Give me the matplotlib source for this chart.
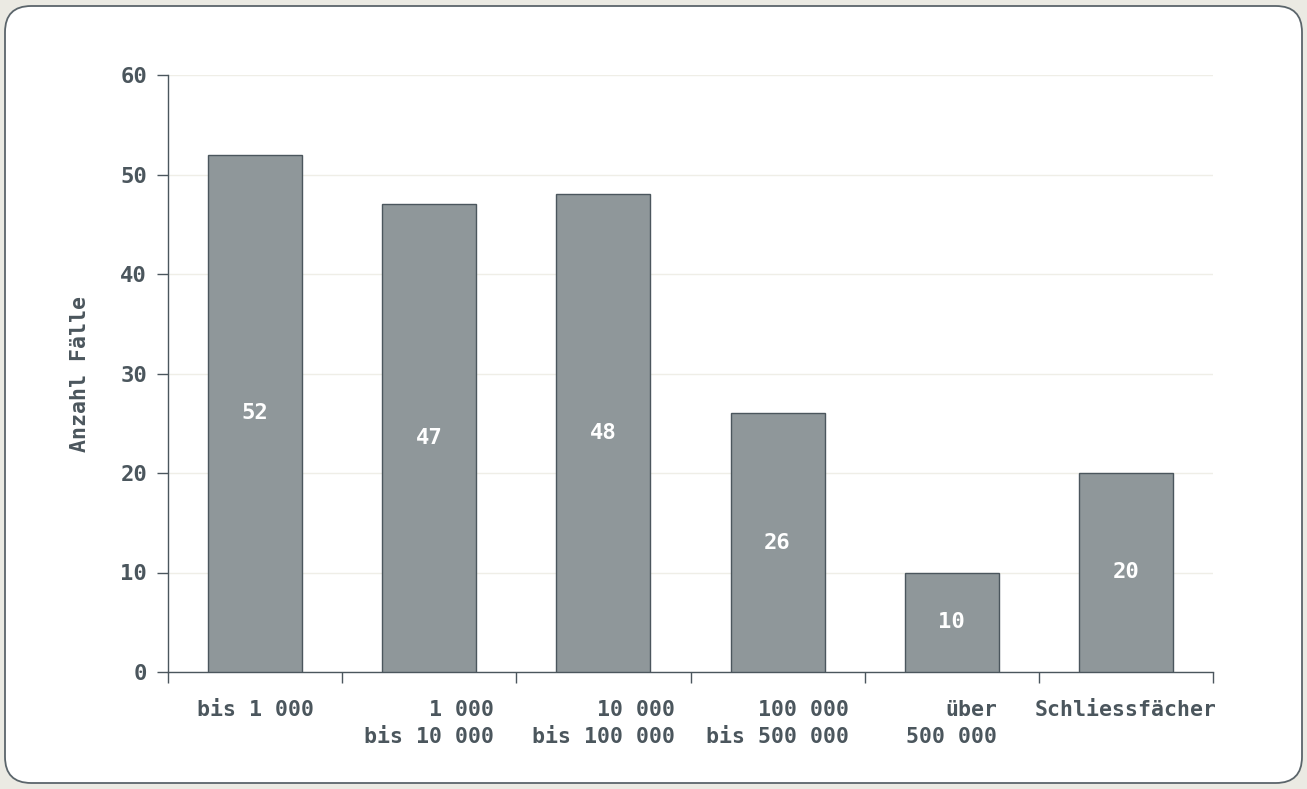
"""
Bar chart: Anzahl Fälle nach Betragsklasse.
"""
import matplotlib
matplotlib.use('Agg')
import matplotlib.pyplot as plt
import matplotlib.patches as mpatches
import numpy as np


# ============================================================
# DATA
# ============================================================
categories = ['bis 1\u2009000', '1\u2009000\nbis 10\u2009000', '10\u2009000\nbis 100\u2009000',
              '100\u2009000\nbis 500\u2009000', 'über\n500\u2009000', 'Schliessfächer']
values = [52, 47, 48, 26, 10, 20]
y_ticks = [0, 10, 20, 30, 40, 50, 60]
y_label = 'Anzahl Fälle'


# ============================================================
# STYLE
# ============================================================
C = {
    'bg':     '#ebeae3',
    'panel':  '#ffffff',
    'frame':  '#5b656b',
    'bar':    '#8f979a',
    'edge':   '#4b565d',
    'text':   '#4b565d',
    'grid':   '#efeee7',
}
FONT = ['DejaVu Sans Mono', 'DejaVu Sans']
FS_X = 15.5
FS_Y = 16

W, H = 1307, 789
fig = plt.figure(figsize=(W / 100, H / 100), dpi=100, facecolor=C['bg'])

# Rounded white panel
panel = mpatches.FancyBboxPatch(
    (5 / W, 6 / H), 1297 / W, 777 / H,
    boxstyle='round,pad=0,rounding_size=0.02',
    facecolor=C['panel'], edgecolor=C['frame'], linewidth=1.3,
    transform=fig.transFigure, figure=fig, zorder=-10,
    mutation_aspect=W / H)
fig.patches.append(panel)

ax = fig.add_axes([168 / W, 117 / H, (1213 - 168) / W, (672 - 75) / H])
ax.set_zorder(5)
ax.set_facecolor('none')

x = np.arange(len(values)) + 0.5
bars = ax.bar(x, values, width=0.54, color=C['bar'], edgecolor=C['edge'],
              linewidth=1.0, zorder=3)

# Value labels in the middle of each bar
for xi, v in zip(x, values):
    ax.text(xi, v / 2, str(v), ha='center', va='center', color='white',
            fontsize=FS_Y, fontweight='bold', family=FONT, zorder=4)

ax.set_xlim(0, len(values))
ax.set_ylim(0, 60)

# y axis
ax.set_yticks(y_ticks)
ax.set_yticklabels([str(t) for t in y_ticks])
ax.grid(axis='y', color=C['grid'], linewidth=1.0, zorder=0)
ax.set_axisbelow(True)

# x axis: ticks at category boundaries, labels at centres
ax.set_xticks(np.arange(len(values) + 1))
ax.set_xticklabels([])
ax.set_xticks(x, minor=True)
ax.set_xticklabels(categories, minor=True, multialignment='right',
                   linespacing=1.45)
ax.tick_params(axis='x', which='major', length=8, width=1.0, color=C['edge'],
               direction='out')
ax.tick_params(axis='x', which='minor', length=0, pad=20)
ax.tick_params(axis='y', length=8, width=1.0, color=C['edge'], pad=7)

for lab in ax.get_xticklabels(minor=True):
    lab.set_fontsize(FS_X)
    lab.set_fontweight('bold')
    lab.set_family(FONT)
    lab.set_color(C['text'])
for lab in ax.get_yticklabels():
    lab.set_fontsize(FS_Y)
    lab.set_fontweight('bold')
    lab.set_family(FONT)
    lab.set_color(C['text'])

for side in ('top', 'right'):
    ax.spines[side].set_visible(False)
for side in ('left', 'bottom'):
    ax.spines[side].set_color(C['edge'])
    ax.spines[side].set_linewidth(1.0)

ax.set_ylabel(y_label, fontsize=FS_X, fontweight='bold', family=FONT,
              color=C['text'], labelpad=22)

fig.savefig('out.png', dpi=100, facecolor=C['bg'])
plt.close(fig)
